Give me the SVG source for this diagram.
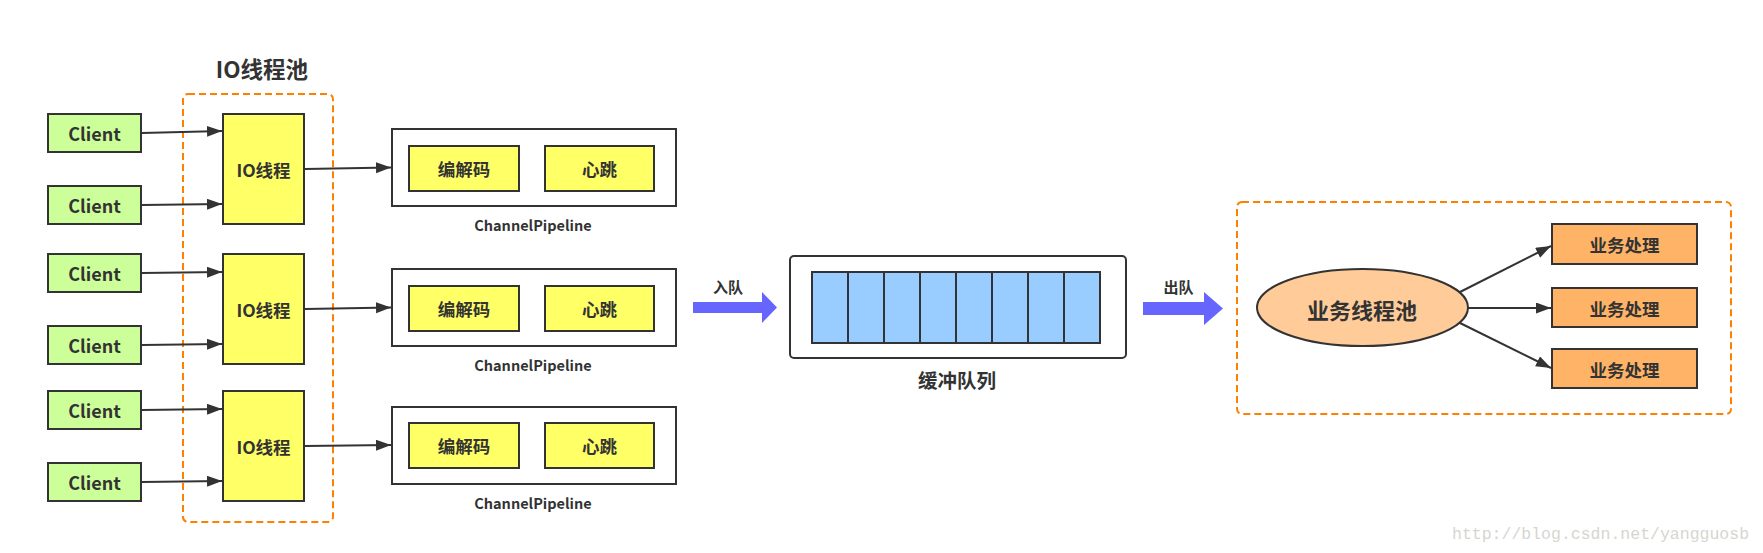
<svg xmlns="http://www.w3.org/2000/svg" width="1763" height="553" viewBox="0 0 1763 553">
<style>
text{font-family:"Noto Sans CJK SC","Noto Sans",sans-serif;font-weight:bold;fill:#333;text-anchor:middle;dominant-baseline:central}
.box{stroke:#333;stroke-width:2}
.client{fill:#CCFF99}
.yellow{fill:#FFFF66}
.cell{fill:#99CCFF;stroke:#333;stroke-width:2}
.biz{fill:#FFB366}
.dash{fill:none;stroke:#FF8000;stroke-width:2;stroke-dasharray:7 4}
.conn{stroke:#333;stroke-width:2;fill:none;marker-end:url(#ah)}
.big{fill:#6666FF}
.wm{font-family:"Liberation Mono",monospace;font-weight:normal;fill:#d6d6d0;font-size:16.5px;text-anchor:start}
</style>
<defs>
<marker id="ah" markerUnits="userSpaceOnUse" markerWidth="16" markerHeight="12" refX="15" refY="5.5" orient="auto">
<path d="M0,0 L15,5.5 L0,11 z" fill="#333"/>
</marker>
</defs>

<text x="262" y="68" style="font-size:22.5px">IO线程池</text>
<rect class="dash" x="183" y="94" width="150" height="428" rx="5"/>

<g id="client1"><rect class="box client" x="48" y="114" width="93" height="38"/><text x="94.5" y="133" style="font-size:18px">Client</text></g>
<g id="client2"><rect class="box client" x="48" y="186" width="93" height="38"/><text x="94.5" y="205" style="font-size:18px">Client</text></g>
<g id="client3"><rect class="box client" x="48" y="254" width="93" height="38"/><text x="94.5" y="273" style="font-size:18px">Client</text></g>
<g id="client4"><rect class="box client" x="48" y="326" width="93" height="38"/><text x="94.5" y="345" style="font-size:18px">Client</text></g>
<g id="client5"><rect class="box client" x="48" y="391" width="93" height="38"/><text x="94.5" y="410" style="font-size:18px">Client</text></g>
<g id="client6"><rect class="box client" x="48" y="463" width="93" height="38"/><text x="94.5" y="482" style="font-size:18px">Client</text></g>

<g id="io1"><rect class="box yellow" x="223" y="114" width="81" height="110"/><text x="263.5" y="169" style="font-size:17.5px">IO线程</text></g>
<g id="io2"><rect class="box yellow" x="223" y="254" width="81" height="110"/><text x="263.5" y="309" style="font-size:17.5px">IO线程</text></g>
<g id="io3"><rect class="box yellow" x="223" y="391" width="81" height="110"/><text x="263.5" y="446" style="font-size:17.5px">IO线程</text></g>

<g id="pipeline1">
<rect class="box" fill="#fff" x="392" y="129" width="284" height="77"/>
<rect class="box yellow" x="409" y="146" width="110" height="45"/><text x="464" y="168.5" style="font-size:17.5px">编解码</text>
<rect class="box yellow" x="545" y="146" width="109" height="45"/><text x="599.5" y="168.5" style="font-size:17.5px">心跳</text>
<text x="533" y="224" style="font-size:14.5px">ChannelPipeline</text>
</g>
<g id="pipeline2">
<rect class="box" fill="#fff" x="392" y="269" width="284" height="77"/>
<rect class="box yellow" x="409" y="286" width="110" height="45"/><text x="464" y="308.5" style="font-size:17.5px">编解码</text>
<rect class="box yellow" x="545" y="286" width="109" height="45"/><text x="599.5" y="308.5" style="font-size:17.5px">心跳</text>
<text x="533" y="364" style="font-size:14.5px">ChannelPipeline</text>
</g>
<g id="pipeline3">
<rect class="box" fill="#fff" x="392" y="407" width="284" height="77"/>
<rect class="box yellow" x="409" y="423" width="110" height="45"/><text x="464" y="445.5" style="font-size:17.5px">编解码</text>
<rect class="box yellow" x="545" y="423" width="109" height="45"/><text x="599.5" y="445.5" style="font-size:17.5px">心跳</text>
<text x="533" y="502" style="font-size:14.5px">ChannelPipeline</text>
</g>

<g id="enqueue">
<text x="728" y="286" style="font-size:15px">入队</text>
<polygon class="big" points="693,302 762,302 762,292 777,307.5 762,323 762,313 693,313"/>
</g>

<g id="queue">
<rect class="box" fill="#fff" x="790" y="256" width="336" height="102" rx="4"/>
<rect class="cell" x="812" y="272" width="36" height="71"/>
<rect class="cell" x="848" y="272" width="36" height="71"/>
<rect class="cell" x="884" y="272" width="36" height="71"/>
<rect class="cell" x="920" y="272" width="36" height="71"/>
<rect class="cell" x="956" y="272" width="36" height="71"/>
<rect class="cell" x="992" y="272" width="36" height="71"/>
<rect class="cell" x="1028" y="272" width="36" height="71"/>
<rect class="cell" x="1064" y="272" width="36" height="71"/>
<text x="957" y="379" style="font-size:19.5px">缓冲队列</text>
</g>

<g id="dequeue">
<text x="1178.5" y="286" style="font-size:15px">出队</text>
<polygon class="big" points="1143,302 1204,302 1204,292 1223,308.5 1204,325 1204,315 1143,315"/>
</g>

<rect class="dash" x="1237" y="202" width="494" height="212" rx="5"/>

<g id="bizpool"><ellipse cx="1362.5" cy="307.5" rx="105.5" ry="38.5" fill="#FFCC99" stroke="#333" stroke-width="2"/><text x="1362" y="309" style="font-size:22px">业务线程池</text></g>

<g id="biz1"><rect class="box biz" x="1552" y="224" width="145" height="40"/><text x="1624.5" y="244.5" style="font-size:17.5px">业务处理</text></g>
<g id="biz2"><rect class="box biz" x="1552" y="288" width="145" height="39"/><text x="1624.5" y="308" style="font-size:17.5px">业务处理</text></g>
<g id="biz3"><rect class="box biz" x="1552" y="349" width="145" height="39"/><text x="1624.5" y="369" style="font-size:17.5px">业务处理</text></g>

<g id="connectors">
<line class="conn" x1="142" y1="133" x2="222" y2="131"/>
<line class="conn" x1="142" y1="205" x2="222" y2="204"/>
<line class="conn" x1="142" y1="273" x2="222" y2="272"/>
<line class="conn" x1="142" y1="345" x2="222" y2="344"/>
<line class="conn" x1="142" y1="410" x2="222" y2="409"/>
<line class="conn" x1="142" y1="482" x2="222" y2="481"/>
<line class="conn" x1="305" y1="169" x2="391" y2="167.5"/>
<line class="conn" x1="305" y1="309" x2="391" y2="307.5"/>
<line class="conn" x1="305" y1="446" x2="391" y2="445"/>
<line class="conn" x1="1460" y1="292" x2="1551" y2="246"/>
<line class="conn" x1="1468" y1="308" x2="1551" y2="308"/>
<line class="conn" x1="1460" y1="323" x2="1551" y2="368"/>
</g>

<text class="wm" x="1452" y="534">http://blog.csdn.net/yangguosb</text>
</svg>
